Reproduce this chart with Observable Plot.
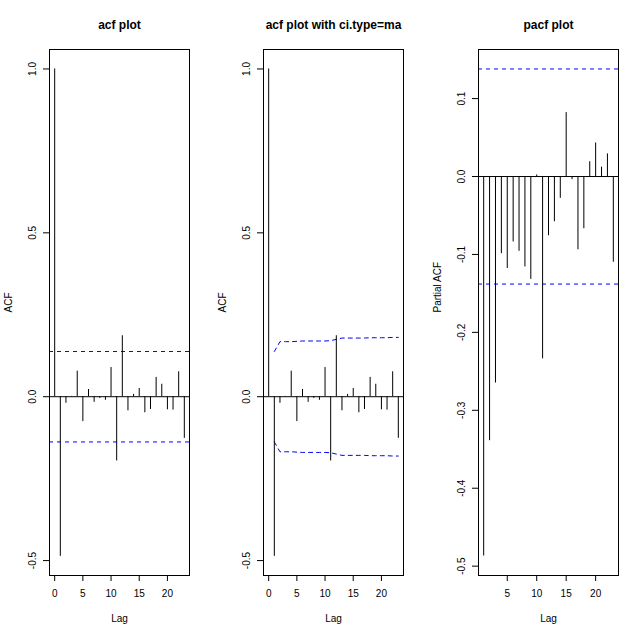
<!DOCTYPE html>
<html><head><meta charset="utf-8">
<script src="https://cdn.jsdelivr.net/npm/d3@7"></script>
<script src="https://cdn.jsdelivr.net/npm/@observablehq/plot@0.6"></script>
<style>
body{margin:0;background:#fff;}
#wrap{position:relative;width:643px;height:637px;background:#fff;}
#wrap svg{position:absolute;top:0;}
</style></head><body><div id="wrap"></div>
<script>
// ---- data ----
const titles = ["acf plot", "acf plot with ci.type=ma", "pacf plot"];
const yLabels = ["ACF", "ACF", "Partial ACF"];
const xLabel = "Lag";

const acfLags = [0,1,2,3,4,5,6,7,8,9,10,11,12,13,14,15,16,17,18,19,20,21,22,23];
const acfValues = [1.000, -0.487, -0.020, 0.001, 0.078, -0.076, 0.022, -0.017, -0.005, -0.011,
                   0.089, -0.196, 0.186, -0.043, 0.007, 0.025, -0.049, -0.039, 0.059, 0.038,
                   -0.040, -0.041, 0.076, -0.127];

const pacfLags = [1,2,3,4,5,6,7,8,9,10,11,12,13,14,15,16,17,18,19,20,21,22,23];
const pacfValues = [-0.487, -0.339, -0.265, -0.099, -0.118, -0.084, -0.096, -0.116, -0.132, 0.002,
                    -0.234, -0.076, -0.058, -0.028, 0.082, -0.004, -0.094, -0.067, 0.019, 0.043,
                    0.012, 0.029, -0.110];

const whiteNoiseCI = 0.138;
const maCiLags = [1,2,3,4,5,6,7,8,9,10,11,12,13,14,15,16,17,18,19,20,21,22,23];
const maCiValues = [0.138, 0.168, 0.168, 0.168, 0.169, 0.170, 0.170, 0.170, 0.170, 0.170, 0.171,
                    0.175, 0.179, 0.179, 0.179, 0.179, 0.179, 0.180, 0.180, 0.180, 0.180, 0.181, 0.181];

const acfXTicks = [0, 5, 10, 15, 20];
const pacfXTicks = [5, 10, 15, 20];
const acfYTicks = [-0.5, 0.0, 0.5, 1.0];
const pacfYTicks = [-0.5, -0.4, -0.3, -0.2, -0.1, 0.0, 0.1];

// ---- build ----
const acfRows = acfLags.map((lag, i) => ({lag, value: acfValues[i]}));
const pacfRows = pacfLags.map((lag, i) => ({lag, value: pacfValues[i]}));
const maUpper = maCiLags.map((lag, i) => ({lag, value: maCiValues[i]}));
const maLower = maCiLags.map((lag, i) => ({lag, value: -maCiValues[i]}));

const font = '"Liberation Sans", Arial, Helvetica, sans-serif';
const dash = {stroke: "blue", strokeDasharray: "4,4", strokeWidth: 1};

function panel({title, ylabel, rows, xDomain, yDomain, xTicks, yTicks, ciMarks, width}) {
  return Plot.plot({
    width, height: 637,
    marginLeft: 49, marginRight: 25, marginTop: 49, marginBottom: 62,
    x: {domain: xDomain},
    y: {domain: yDomain},
    style: {fontFamily: font, fontSize: "10px", color: "black", background: "white", overflow: "visible"},
    marks: [
      Plot.ruleY([0], {stroke: "black"}),
      ...ciMarks,
      Plot.ruleX(rows, {x: "lag", y1: 0, y2: "value", stroke: "black", strokeWidth: 1}),
      Plot.frame({stroke: "black"}),
      Plot.axisX({ticks: xTicks, tickSize: 6, tickPadding: 8, label: null, tickFormat: d => String(d)}),
      Plot.axisY({ticks: yTicks, tickSize: 6, tickPadding: 8, tickRotate: -90, label: null,
                  tickFormat: d => d.toFixed(1)}),
      Plot.text([title], {text: d => d, frameAnchor: "top", dy: -29, fontWeight: "bold", fontSize: 12}),
      Plot.text([xLabel], {text: d => d, frameAnchor: "bottom", dy: 46}),
      Plot.text([ylabel], {text: d => d, frameAnchor: "left", dx: -41, rotate: -90})
    ]
  });
}

const acfX = [-0.92, 23.92];
const acfY = [-0.5455, 1.0594];

const p1 = panel({
  title: titles[0], ylabel: yLabels[0], rows: acfRows, xDomain: acfX, yDomain: acfY,
  xTicks: acfXTicks, yTicks: acfYTicks, width: 214,
  ciMarks: [Plot.ruleY([whiteNoiseCI, -whiteNoiseCI], dash)]
});
const p2 = panel({
  title: titles[1], ylabel: yLabels[1], rows: acfRows, xDomain: acfX, yDomain: acfY,
  xTicks: acfXTicks, yTicks: acfYTicks, width: 214,
  ciMarks: [
    Plot.line(maUpper, {x: "lag", y: "value", ...dash}),
    Plot.line(maLower, {x: "lag", y: "value", ...dash})
  ]
});
const p3 = panel({
  title: titles[2], ylabel: yLabels[2], rows: pacfRows, xDomain: [0.12, 23.88], yDomain: [-0.512, 0.163],
  xTicks: pacfXTicks, yTicks: pacfYTicks, width: 214,
  ciMarks: [Plot.ruleY([whiteNoiseCI, -whiteNoiseCI], dash)]
});

const wrap = document.getElementById("wrap");
[[p1, 0], [p2, 214], [p3, 429]].forEach(([svg, left]) => {
  svg.style.left = left + "px";
  wrap.appendChild(svg);
});
</script></body></html>
